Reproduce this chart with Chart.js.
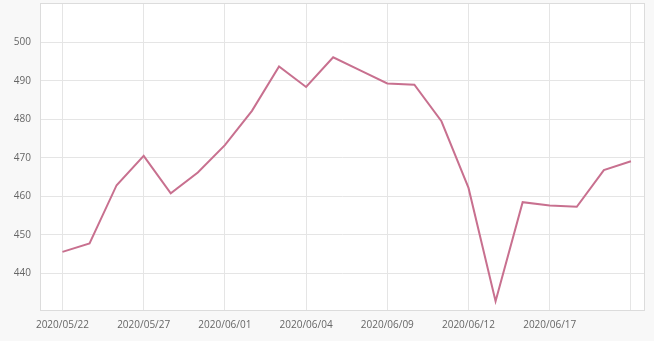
<!DOCTYPE html>
<html>
<head>
<meta charset="utf-8">
<script src="https://cdn.jsdelivr.net/npm/chart.js@4/dist/chart.umd.min.js"></script>
<style>
  html, body { margin: 0; padding: 0; background: #f8f8f8; }
  #wrap { width: 654px; height: 341px; }
</style>
</head>
<body>
<div id="wrap"><canvas id="chart"></canvas></div>
<script>
// trading days
const dates = [
    '2020/05/22', '2020/05/25', '2020/05/26', '2020/05/27', '2020/05/28', '2020/05/29',
    '2020/06/01', '2020/06/02', '2020/06/03', '2020/06/04', '2020/06/05', '2020/06/08',
    '2020/06/09', '2020/06/10', '2020/06/11', '2020/06/12', '2020/06/15', '2020/06/16',
    '2020/06/17', '2020/06/18', '2020/06/19', '2020/06/22'
];
const values = [
    445.6, 447.8, 462.9, 470.5, 460.8, 466.2,
    473.3, 482.2, 493.7, 488.4, 496.1, 492.7,
    489.3, 489.0, 479.5, 462.2, 432.8, 458.5,
    457.6, 457.3, 466.8, 469.1
];
const yTicks = [440, 450, 460, 470, 480, 490, 500];

const gridColor = '#e5e5e5';
const textColor = '#666666';

// white plot area with a thin frame
const plotFrame = {
    id: 'plotFrame',
    beforeDraw(chart) {
        const { ctx, chartArea: a } = chart;
        ctx.save();
        ctx.fillStyle = '#ffffff';
        ctx.fillRect(a.left, a.top, a.right - a.left, a.bottom - a.top);
        ctx.restore();
    },
    afterDraw(chart) {
        const { ctx, chartArea: a } = chart;
        ctx.save();
        ctx.strokeStyle = '#dcdcdc';
        ctx.lineWidth = 1;
        ctx.strokeRect(a.left + 0.5, a.top + 0.5, a.right - a.left - 1, a.bottom - a.top);
        ctx.restore();
    }
};

new Chart(document.getElementById('chart'), {
    type: 'line',
    data: {
        datasets: [{
            data: values.map((v, i) => ({ x: i, y: v })),
            borderColor: '#c8708f',
            borderWidth: 2,
            pointRadius: 0,
            tension: 0,
            fill: false
        }]
    },
    options: {
        responsive: true,
        maintainAspectRatio: false,
        animation: false,
        layout: { padding: { top: 3, right: 9, bottom: 1, left: 0 } },
        plugins: { legend: { display: false }, tooltip: { enabled: false } },
        scales: {
            x: {
                type: 'linear',
                min: -0.83,
                max: 21.52,
                afterFit: (s) => { s.height = 30; s.paddingLeft = 0; s.paddingRight = 0; },
                afterBuildTicks: (s) => {
                    s.ticks = dates.map((d, i) => ({ value: i })).filter(t => t.value % 3 === 0);
                },
                grid: { color: gridColor, drawTicks: false },
                border: { display: false },
                ticks: {
                    autoSkip: false,
                    maxRotation: 0,
                    padding: 9,
                    color: textColor,
                    font: { family: 'Open Sans', size: 10 },
                    callback: (v) => (v < dates.length - 1 ? dates[v] : '')
                }
            },
            y: {
                min: 430.5,
                max: 510.2,
                afterFit: (s) => { s.width = 40; s.paddingTop = 0; s.paddingBottom = 0; },
                afterBuildTicks: (s) => { s.ticks = yTicks.map(v => ({ value: v })); },
                grid: { color: gridColor, drawTicks: false },
                border: { display: false },
                ticks: {
                    padding: 9,
                    color: textColor,
                    font: { family: 'Open Sans', size: 10 }
                }
            }
        }
    },
    plugins: [plotFrame]
});
</script>
</body>
</html>
